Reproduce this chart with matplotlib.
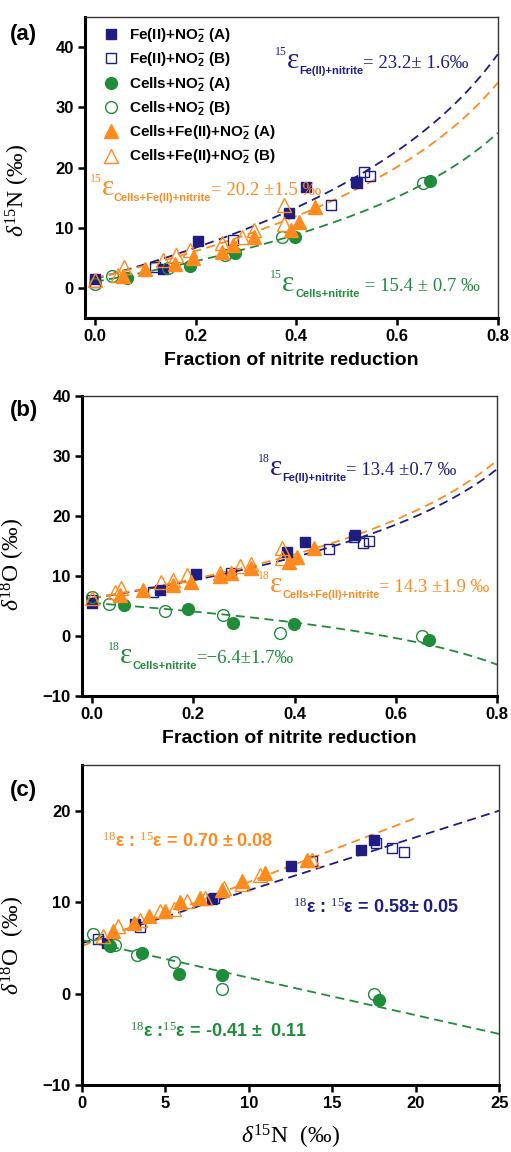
import numpy as np
import matplotlib
matplotlib.use("Agg")
import matplotlib.pyplot as plt
import matplotlib.transforms as mtransforms

plt.rcParams['font.family'] = ['Liberation Sans', 'DejaVu Sans']
plt.rcParams['mathtext.fontset'] = 'custom'
plt.rcParams['mathtext.rm'] = 'Liberation Serif'
plt.rcParams['mathtext.it'] = 'Liberation Serif:italic'
plt.rcParams['mathtext.sf'] = 'Liberation Sans:bold'
plt.rcParams['mathtext.bf'] = 'Liberation Sans:bold'

NAVY = '#1f1c82'
GREEN = '#1e8c3a'
ORANGE = '#ff8a1e'

# ---------------- data ----------------
# Fe(II)+NO2- (A)
feA_f = [0.0, 0.135, 0.205, 0.385, 0.42, 0.52]
feA_n15 = [1.5, 3.2, 7.8, 12.5, 16.7, 17.5]
feA_o18 = [5.5, 7.6, 10.4, 14.0, 15.7, 16.8]
# Fe(II)+NO2- (B)
feB_f = [0.0, 0.12, 0.275, 0.468, 0.518, 0.535, 0.546]
feB_n15 = [1.0, 3.5, 7.9, 13.8, 17.6, 19.3, 18.6]
feB_o18 = [6.0, 7.3, 10.5, 14.5, 16.5, 15.5, 15.9]
# Cells+NO2- (A)
ceA_f = [0.063, 0.189, 0.279, 0.398, 0.665]
ceA_n15 = [1.7, 3.6, 5.8, 8.4, 17.8]
ceA_o18 = [5.2, 4.5, 2.2, 2.0, -0.7]
# Cells+NO2- (B)
ceB_f = [0.0, 0.033, 0.145, 0.259, 0.371, 0.652]
ceB_n15 = [0.7, 2.0, 3.3, 5.5, 8.4, 17.5]
ceB_o18 = [6.5, 5.3, 4.2, 3.5, 0.5, 0.0]
# Cells+Fe(II)+NO2- (A)
cfA_f = [0.055, 0.10, 0.16, 0.195, 0.252, 0.275, 0.315, 0.39, 0.405, 0.438]
cfA_n15 = [1.9, 3.1, 4.0, 5.0, 5.9, 7.1, 8.4, 9.6, 11.0, 13.5]
cfA_o18 = [6.9, 7.7, 8.5, 9.0, 10.0, 10.5, 11.3, 12.3, 13.2, 14.6]
# Cells+Fe(II)+NO2- (B)
cfB_f = [0.0, 0.045, 0.058, 0.136, 0.161, 0.188, 0.252, 0.293, 0.315, 0.375, 0.375]
cfB_n15 = [1.3, 2.2, 3.5, 4.7, 5.5, 6.3, 7.4, 8.5, 9.6, 10.7, 13.8]
cfB_o18 = [6.3, 7.4, 8.0, 9.0, 9.3, 10.1, 10.5, 11.6, 12.0, 13.0, 14.6]

# Rayleigh fit parameters (epsilon, initial delta)
eps15 = {'fe': 23.2, 'cf': 20.2, 'ce': 15.4}
d15_0 = {'fe': 1.5, 'cf': 1.6, 'ce': 1.0}
eps18 = {'fe': 13.4, 'cf': 14.3, 'ce': -6.4}
d18_0 = {'fe': 6.3, 'cf': 6.3, 'ce': 5.5}
# dual isotope slopes and intercepts
slope = {'fe': 0.58, 'cf': 0.70, 'ce': -0.41}
icpt = {'fe': 5.5, 'cf': 5.2, 'ce': 5.85}
xend = {'fe': 25, 'cf': 20, 'ce': 25}

series = [
    ('Fe(II)+NO$_\\mathsf{2}^\\mathsf{-}$ (A)', feA_f, feA_n15, feA_o18, 's', NAVY, True),
    ('Fe(II)+NO$_\\mathsf{2}^\\mathsf{-}$ (B)', feB_f, feB_n15, feB_o18, 's', NAVY, False),
    ('Cells+NO$_\\mathsf{2}^\\mathsf{-}$ (A)', ceA_f, ceA_n15, ceA_o18, 'o', GREEN, True),
    ('Cells+NO$_\\mathsf{2}^\\mathsf{-}$ (B)', ceB_f, ceB_n15, ceB_o18, 'o', GREEN, False),
    ('Cells+Fe(II)+NO$_\\mathsf{2}^\\mathsf{-}$ (A)', cfA_f, cfA_n15, cfA_o18, '^', ORANGE, True),
    ('Cells+Fe(II)+NO$_\\mathsf{2}^\\mathsf{-}$ (B)', cfB_f, cfB_n15, cfB_o18, '^', ORANGE, False),
]
msize = {'s': 7.5, 'o': 8.5, '^': 9.5}
cols = {'fe': NAVY, 'cf': ORANGE, 'ce': GREEN}

fig = plt.figure(figsize=(5.11, 11.52), dpi=100)
axA = fig.add_axes([0.166, 0.724, 0.808, 0.261])
axB = fig.add_axes([0.160, 0.396, 0.813, 0.260])
axC = fig.add_axes([0.160, 0.058, 0.817, 0.278])
renderer = fig.canvas.get_renderer()

SERIF = 'Liberation Serif'
SANS = 'Liberation Sans'

def rich(ax, x, y, pieces, color):
    xoff = 0.0
    for s, size, fam, wt, dy in pieces:
        tr = mtransforms.offset_copy(ax.transAxes, fig=fig, x=xoff, y=dy, units='points')
        t = ax.text(x, y, s, transform=tr, fontsize=size, family=fam,
                    fontweight=wt, color=color, va='baseline', ha='left')
        bb = t.get_window_extent(renderer=renderer)
        xoff += bb.width * 72.0 / fig.dpi

def eps_label(ax, x, y, iso, sub, rest, color, gap=0.0):
    pieces = [(iso, 8.5, SERIF, 'normal', 9.5),
              ('ε', 21, SERIF, 'normal', 0),
              (sub, 8.0, SANS, 'bold', -4.5)]
    if gap:
        pieces.insert(2, (' ', gap, SERIF, 'normal', 0))
    pieces.append((rest, 13.5, SERIF, 'normal', 0))
    rich(ax, x, y, pieces, color)

def style(ax):
    for s in ['left', 'bottom']:
        ax.spines[s].set_linewidth(2.2)
    for s in ['top', 'right']:
        ax.spines[s].set_linewidth(1.0)
        ax.spines[s].set_color('#333333')
    ax.tick_params(direction='out', length=5, width=1.8, labelsize=12, pad=3,
                   top=False, right=False)
    for lab in ax.get_xticklabels() + ax.get_yticklabels():
        lab.set_fontweight('bold')

def pts(ax, x, y, m, c, filled, label=None):
    ax.plot(x, y, linestyle='none', marker=m, ms=msize[m],
            mfc=c if filled else 'none', mec=c, mew=1.0, label=label, zorder=3)

fgrid = np.linspace(0.0, 0.8, 200)

# ---- panel a ----
for k in ['fe', 'cf', 'ce']:
    axA.plot(fgrid, d15_0[k] - eps15[k] * np.log(1 - fgrid), ls=(0, (5, 3)),
             color=cols[k], lw=1.3, zorder=2)
for lab, f, n, o, m, c, fl in series:
    pts(axA, f, n, m, c, fl, lab)
axA.set_xlim(-0.02, 0.8)
axA.set_ylim(-5, 45)
axA.set_xticks([0.0, 0.2, 0.4, 0.6, 0.8])
axA.set_yticks([0, 10, 20, 30, 40])
axA.set_xticklabels(['0.0', '0.2', '0.4', '0.6', '0.8'])
axA.set_xlabel('Fraction of nitrite reduction', fontsize=14, fontweight='bold', labelpad=6)
axA.set_ylabel('$\\delta^{15}$N (‰)', fontsize=17, family=SERIF)
axA.yaxis.set_label_coords(-0.128, 0.425)
axA.legend(loc='upper left', frameon=False, bbox_to_anchor=(0.018, 1.0),
           prop={'weight': 'bold', 'size': 11}, labelspacing=0.38,
           handletextpad=0.6, borderaxespad=0.2, handlelength=1.2)
style(axA)

# ---- panel b ----
for k in ['fe', 'cf', 'ce']:
    axB.plot(fgrid, d18_0[k] - eps18[k] * np.log(1 - fgrid), ls=(0, (5, 3)),
             color=cols[k], lw=1.3, zorder=2)
for lab, f, n, o, m, c, fl in series:
    pts(axB, f, o, m, c, fl)
axB.set_xlim(-0.02, 0.8)
axB.set_ylim(-10, 40)
axB.set_xticks([0.0, 0.2, 0.4, 0.6, 0.8])
axB.set_yticks([-10, 0, 10, 20, 30, 40])
axB.set_xticklabels(['0.0', '0.2', '0.4', '0.6', '0.8'])
axB.set_xlabel('Fraction of nitrite reduction', fontsize=14, fontweight='bold', labelpad=6)
axB.set_ylabel('$\\delta^{18}$O (‰)', fontsize=17, family=SERIF)
axB.yaxis.set_label_coords(-0.133, 0.437)
style(axB)

# ---- panel c ----
for k in ['fe', 'cf', 'ce']:
    xx = np.linspace(0, xend[k], 50)
    axC.plot(xx, icpt[k] + slope[k] * xx, ls=(0, (5, 3)), color=cols[k], lw=1.3, zorder=2)
for lab, f, n, o, m, c, fl in series:
    pts(axC, n, o, m, c, fl)
axC.set_xlim(0, 25)
axC.set_ylim(-10, 25)
axC.set_xticks([0, 5, 10, 15, 20, 25])
axC.set_yticks([-10, 0, 10, 20])
axC.set_xlabel('$\\delta^{15}$N  (‰)', fontsize=17, family=SERIF, labelpad=8)
axC.set_ylabel('$\\delta^{18}$O  (‰)', fontsize=17, family=SERIF)
axC.yaxis.set_label_coords(-0.132, 0.4375)
style(axC)

# ---- annotations ----
eps_label(axA, 0.460, 0.831, '15', 'Fe(II)+nitrite', '= 23.2± 1.6‰', NAVY)
eps_label(axA, 0.012, 0.409, '15', 'Cells+Fe(II)+nitrite', '= 20.2 ±1.5 ‰', ORANGE)
eps_label(axA, 0.448, 0.090, '15', 'Cells+nitrite', ' = 15.4 ± 0.7 ‰', GREEN, gap=4)

eps_label(axB, 0.424, 0.737, '18', 'Fe(II)+nitrite', '= 13.4 ±0.7 ‰', NAVY)
eps_label(axB, 0.424, 0.347, '18', 'Cells+Fe(II)+nitrite', '= 14.3 ±1.9 ‰', ORANGE)
eps_label(axB, 0.063, 0.110, '18', 'Cells+nitrite', '=−6.4±1.7‰', GREEN)

axC.text(0.048, 0.744, '$^{18}$ε : $^{15}$ε = 0.70 ± 0.08', transform=axC.transAxes,
         color=ORANGE, fontsize=13, fontweight='bold', va='baseline')
axC.text(0.506, 0.5375, '$^{18}$ε : $^{15}$ε = 0.58± 0.05', transform=axC.transAxes,
         color=NAVY, fontsize=13, fontweight='bold', va='baseline')
axC.text(0.115, 0.150, '$^{18}$ε :$^{15}$ε = -0.41 ±  0.11', transform=axC.transAxes,
         color=GREEN, fontsize=13, fontweight='bold', va='baseline')

fig.text(0.02, 0.970, '(a)', fontsize=16, fontweight='bold', va='center')
fig.text(0.02, 0.644, '(b)', fontsize=16, fontweight='bold', va='center')
fig.text(0.02, 0.314, '(c)', fontsize=16, fontweight='bold', va='center')

fig.savefig('out.png', dpi=100)
